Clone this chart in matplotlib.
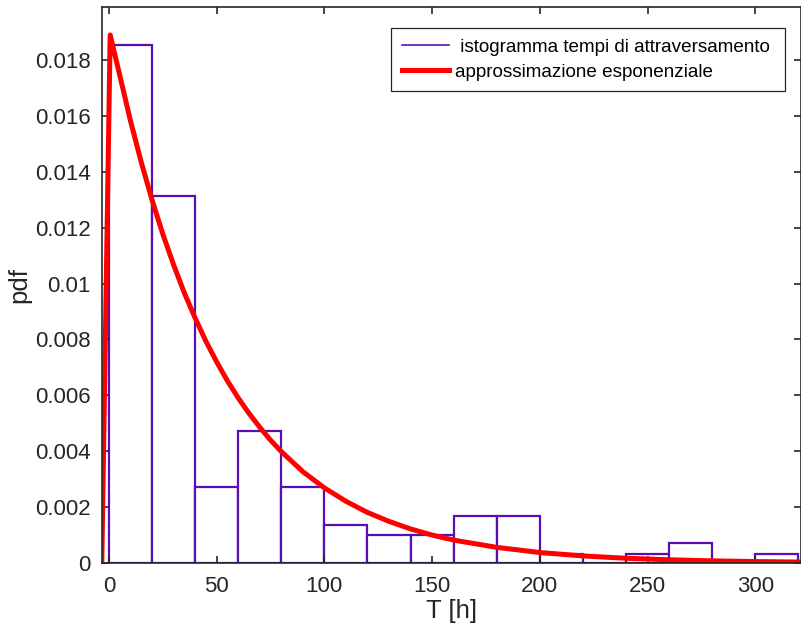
import numpy as np
import matplotlib.pyplot as plt

plt.rcParams['font.family'] = ['Liberation Sans', 'DejaVu Sans']

# histogram of crossing times (bin width 20 h), normalised as pdf
bin_left = [0, 20, 40, 60, 80, 100, 120, 140, 160, 180, 200, 220, 240, 260, 280, 300]
bin_pdf = [0.01854, 0.01313, 0.00272, 0.00472, 0.00272, 0.00136, 0.00100, 0.00100,
           0.00168, 0.00168, 0.00033, 0.0, 0.00034, 0.00070, 0.0, 0.00034]
bin_width = 20

# fitted exponential curve
fit_t = [-3.3, 0.6, 5, 10, 15, 20, 25, 30, 35, 40, 45, 50, 55, 60, 65, 70, 75, 80,
         90, 100, 110, 120, 130, 140, 150, 160, 180, 200, 220, 240, 260, 280, 300, 320]
fit_pdf = [0.0, 0.0189, 0.01747, 0.01583, 0.01435, 0.0130, 0.01178, 0.01068, 0.00967,
           0.00877, 0.00794, 0.00720, 0.00652, 0.00591, 0.00536, 0.00486, 0.00440,
           0.00399, 0.00327, 0.00269, 0.00221, 0.00181, 0.00149, 0.00122, 0.00100,
           0.00082, 0.00056, 0.000375, 0.000253, 0.00017, 0.000115, 0.0000775,
           0.000052, 0.000035]

fig = plt.figure(figsize=(8.01, 6.35), dpi=100)
ax = fig.add_axes([102 / 801, 72 / 635, 698.5 / 801, 556 / 635])

ax.bar(bin_left, bin_pdf, width=bin_width, align='edge', facecolor='white',
       edgecolor='#5a0fb4', linewidth=1.6)
ax.plot([], [], color='#5a0fb4', linewidth=1.2,
        label=' istogramma tempi di attraversamento ')
ax.plot(fit_t, fit_pdf, color='red', linewidth=3.6, label='approssimazione esponenziale',
        solid_joinstyle='round')

ax.set_xlim(-3.2, 321)
ax.set_ylim(0, 0.0199)
ax.set_xticks([0, 50, 100, 150, 200, 250, 300])
ax.set_yticks(np.arange(0, 0.0181, 0.002))
ax.set_yticklabels(['0', '0.002', '0.004', '0.006', '0.008', '0.01', '0.012',
                    '0.014', '0.016', '0.018'])
ax.tick_params(direction='in', top=True, right=True, length=5, width=1.2,
               labelsize=16, colors='#262626')
ax.tick_params(axis='x', pad=9)
ax.tick_params(axis='y', pad=8)
for s in ax.spines.values():
    s.set_linewidth(1.2)
    s.set_color('#262626')

ax.set_xlabel('T [h]', fontsize=18.5, color='#262626', labelpad=2)
ax.set_ylabel('pdf', fontsize=18.5, color='#262626', labelpad=3)

leg = ax.legend(loc='upper right', bbox_to_anchor=(0.978, 0.962), fontsize=13.6,
                fancybox=False, edgecolor='#262626', framealpha=1,
                handlelength=2.5, handletextpad=0.3, borderpad=0.55,
                labelspacing=0.4, borderaxespad=0)
leg.get_frame().set_linewidth(0.9)

fig.savefig('out.png', dpi=100)
